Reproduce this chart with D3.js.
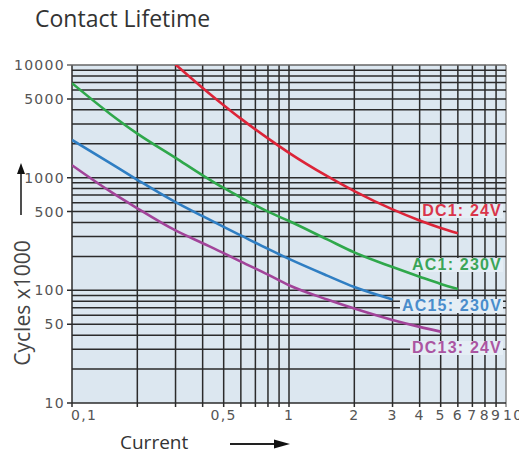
<!DOCTYPE html>
<html lang="en">
<head>
    <meta charset="UTF-8">
    <title>Contact Lifetime</title>
    <script src="https://cdnjs.cloudflare.com/ajax/libs/d3/7.8.5/d3.min.js"></script>
    <style>
        body {
            margin: 0;
            background: #ffffff;
        }

        .tick-label {
            font-family: "DejaVu Sans", sans-serif;
            font-size: 14px;
            letter-spacing: 1.3px;
            fill: #555;
        }

        .series-label {
            font-family: "Liberation Sans", Arial, sans-serif;
            font-size: 16px;
            font-weight: bold;
            letter-spacing: 1.2px;
        }
    </style>
</head>
<body>
    <svg id="chart" width="530" height="455"></svg>

    <script>
        // Curve data: [current A, cycles x1000]
        const dc1 = [[0.3, 10100], [0.4, 6260], [0.5, 4400], [0.6, 3340], [0.8, 2230], [1, 1660],
                     [1.5, 1030], [2, 760], [3, 523], [4, 417], [5, 358], [6, 321]];
        const ac1 = [[0.1, 6900], [0.15, 3680], [0.2, 2460], [0.3, 1500], [0.4, 1050], [0.5, 810],
                     [0.6, 666], [0.8, 499], [1, 412], [1.5, 283], [2, 217], [3, 161], [4, 132],
                     [5, 114], [6, 103]];
        const ac15 = [[0.1, 2160], [0.15, 1344], [0.2, 958], [0.3, 606], [0.4, 455], [0.5, 366],
                      [0.6, 307], [0.8, 233], [1, 190], [1.5, 135], [2, 107], [3, 83]];
        const dc13 = [[0.1, 1290], [0.15, 755], [0.2, 535], [0.3, 340], [0.4, 262], [0.5, 214],
                      [0.6, 180], [0.8, 138], [1, 111], [1.5, 83], [2, 69], [3, 54.6], [4, 47.4], [5, 43]];

        const seriesNames = ["DC1: 24V", "AC1: 230V", "AC15: 230V", "DC13: 24V"];
        const seriesColors = ["#dc2438", "#2fa84b", "#2f7ec3", "#a2449a"];
        const labelColors = ["#d9354b", "#3aa558", "#4a8dcc", "#ab55a2"];
        const labelBaselines = [216, 270, 311, 353];

        const xTickValues = [0.1, 0.5, 1, 2, 3, 4, 5, 6, 7, 8, 9, 10];
        const xTickLabels = ["0,1", "0,5", "1", "2", "3", "4", "5", "6", "7", "8", "9", "10"];
        const yTickValues = [10, 50, 100, 500, 1000, 5000, 10000];
        const yTickLabels = ["10", "50", "100", "500", "1000", "5000", "10000"];

        const svg = d3.select("#chart");

        const x = d3.scaleLog().domain([0.1, 10]).range([72, 506]);
        const y = d3.scaleLog().domain([10, 10000]).range([403, 65]);

        // Plot background
        svg.append("rect")
            .attr("x", x(0.1)).attr("y", y(10000))
            .attr("width", x(10) - x(0.1)).attr("height", y(10) - y(10000))
            .attr("fill", "#dce7f0");

        svg.append("defs").append("clipPath").attr("id", "plot-clip")
            .append("rect")
            .attr("x", x(0.1)).attr("y", y(10000))
            .attr("width", x(10) - x(0.1)).attr("height", y(10) - y(10000));

        svg.append("defs").append("clipPath").attr("id", "label-clip")
            .append("rect").attr("x", 0).attr("y", 0).attr("width", 519).attr("height", 455);

        // Log grid
        const grid = svg.append("g");
        grid.selectAll("line.v")
            .data(x.ticks())
            .join("line")
            .attr("class", "v")
            .attr("x1", d => x(d)).attr("x2", d => x(d))
            .attr("y1", y(10000)).attr("y2", y(10) + 4)
            .attr("stroke", d => d === 10 ? "#888" : "#2b2b2b")
            .attr("stroke-width", 1.5);

        grid.selectAll("line.h")
            .data(y.ticks())
            .join("line")
            .attr("class", "h")
            .attr("x1", d => yTickValues.includes(d) ? x(0.1) - 5 : x(0.1))
            .attr("x2", x(10))
            .attr("y1", d => y(d)).attr("y2", d => y(d))
            .attr("stroke", d => d === 10000 ? "#666" : "#2b2b2b")
            .attr("stroke-width", 1.5);

        // Curves
        const line = d3.line()
            .x(d => x(d[0]))
            .y(d => y(d[1]))
            .curve(d3.curveMonotoneX);

        svg.append("g")
            .attr("clip-path", "url(#plot-clip)")
            .selectAll("path")
            .data([dc1, ac1, ac15, dc13])
            .join("path")
            .attr("d", line)
            .attr("fill", "none")
            .attr("stroke", (d, i) => seriesColors[i])
            .attr("stroke-width", 2.6);

        // Series labels with a light box behind them
        const labels = svg.append("g");
        seriesNames.forEach((name, i) => {
            const g = labels.append("g");
            const t = g.append("text")
                .attr("class", "series-label")
                .attr("x", 502)
                .attr("y", labelBaselines[i])
                .attr("text-anchor", "end")
                .attr("fill", labelColors[i])
                .text(name);
            const b = t.node().getBBox();
            g.insert("rect", "text")
                .attr("x", b.x - 2).attr("y", b.y + 2)
                .attr("width", b.width + 3).attr("height", b.height - 3)
                .attr("fill", "#e5eef5");
        });

        // Y tick labels
        svg.append("g")
            .selectAll("text")
            .data(yTickValues)
            .join("text")
            .attr("class", "tick-label")
            .attr("x", 65)
            .attr("y", d => y(d))
            .attr("dy", "0.36em")
            .attr("text-anchor", "end")
            .text((d, i) => yTickLabels[i]);

        // X tick labels
        svg.append("g")
            .attr("clip-path", "url(#label-clip)")
            .selectAll("text")
            .data(xTickValues)
            .join("text")
            .attr("class", "tick-label")
            .attr("x", d => d === 0.1 ? x(d) - 1 : d === 10 ? x(d) - 3 : x(d))
            .attr("y", 420)
            .attr("text-anchor", d => (d === 0.1 || d === 10) ? "start" : "middle")
            .text((d, i) => xTickLabels[i]);

        // Title and axis titles
        svg.append("text")
            .attr("x", 35).attr("y", 27)
            .attr("font-family", "'Open Sans', sans-serif")
            .attr("font-size", 23)
            .attr("fill", "#333")
            .text("Contact Lifetime");

        svg.append("text")
            .attr("x", 120).attr("y", 449)
            .attr("font-family", "'Open Sans', sans-serif")
            .attr("font-size", 19)
            .attr("fill", "#333")
            .text("Current");

        svg.append("text")
            .attr("transform", "translate(30,303) rotate(-90)")
            .attr("text-anchor", "middle")
            .attr("font-family", "'Open Sans', sans-serif")
            .attr("font-size", 21)
            .attr("fill", "#444")
            .text("Cycles x1000");

        // Arrows
        svg.append("line")
            .attr("x1", 21).attr("x2", 21).attr("y1", 215).attr("y2", 172)
            .attr("stroke", "#222").attr("stroke-width", 1.6);
        svg.append("path")
            .attr("d", "M21,163 L25,174 L17,174 Z")
            .attr("fill", "#111");

        svg.append("line")
            .attr("x1", 230).attr("x2", 278).attr("y1", 444).attr("y2", 444)
            .attr("stroke", "#222").attr("stroke-width", 2);
        svg.append("path")
            .attr("d", "M290,444 L274,439.5 L274,448.5 Z")
            .attr("fill", "#111");
    </script>
</body>
</html>
